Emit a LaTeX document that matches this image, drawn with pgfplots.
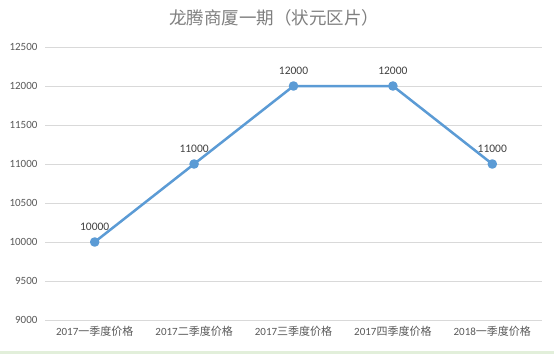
\documentclass[border=0pt]{standalone}
\usepackage{fontspec}
\usepackage{pgfplots}
\pgfplotsset{compat=1.18}
\setmainfont{Carlito}
\newfontfamily\cjk{Noto Sans CJK SC}
\definecolor{lineblue}{HTML}{5B9BD5}
\definecolor{gridgray}{HTML}{D9D9D9}
\definecolor{ticktext}{HTML}{595959}
\definecolor{titlegray}{HTML}{7F7F7F}
\definecolor{labeltext}{HTML}{404040}
\definecolor{sheetgreen}{HTML}{E2EFDA}
\begin{document}
\begin{tikzpicture}[x=1pt,y=1pt]
\useasboundingbox (0,0) rectangle (554,354);
\fill[white] (0,0) rectangle (554,354);
\fill[sheetgreen] (0,0) rectangle (554,3.5);
\node[font=\cjk\fontsize{17.5}{19}\selectfont, text=titlegray] at (274,336) {龙腾商厦一期（状元区片）};
\begin{axis}[
  at={(45pt,34pt)}, anchor=south west,
  scale only axis, width=497pt, height=273pt,
  xmin=-0.5, xmax=4.5, ymin=9000, ymax=12500,
  ytick={9000,9500,...,12500},
  scaled y ticks=false,
  yticklabel style={/pgf/number format/fixed, /pgf/number format/1000 sep={}},
  xtick={0,1,2,3,4},
  xticklabels={2017{\cjk 一季度价格},2017{\cjk 二季度价格},2017{\cjk 三季度价格},2017{\cjk 四季度价格},2018{\cjk 一季度价格}},
  ymajorgrids, grid style={gridgray, line width=0.8pt},
  axis x line*=bottom, axis y line*=left,
  x axis line style={gridgray, line width=0.8pt, -},
  y axis line style={draw=none},
  major tick length=0pt,
  tick label style={font=\fontsize{11}{13}\selectfont, text=ticktext},
  yticklabel style={xshift=-4pt},
  xticklabel style={yshift=-3pt},
  /pgf/number format/assume math mode=true,
  /pgf/number format/1000 sep={},
  clip=false,
  nodes near coords,
  every node near coord/.style={font=\fontsize{11.5}{13}\selectfont, text=labeltext, yshift=7pt},
]
\addplot[lineblue, line width=2.5pt, mark=*, mark size=3.5pt, mark options={fill=lineblue, draw=lineblue}, line join=round]
  coordinates {(0,10000) (1,11000) (2,12000) (3,12000) (4,11000)};
\end{axis}
\end{tikzpicture}
\end{document}
